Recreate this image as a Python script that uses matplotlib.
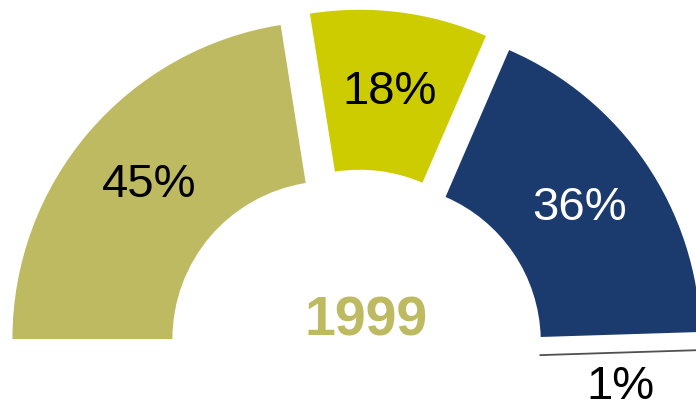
import matplotlib.pyplot as plt
import numpy as np

plt.rcParams['font.family'] = ['Liberation Sans', 'DejaVu Sans']

# data
shares = [45, 18, 36, 1]
colors = ['#BEBA62', '#CCCC00', '#1B3A6E', '#FFFFFF']
text_colors = ['black', 'black', 'white', 'black']
year = '1999'

fig = plt.figure(figsize=(6.96, 4.04), dpi=100)
ax = fig.add_axes([0, 0, 1, 1])

# half doughnut: hidden second half equal to the total
values = shares + [sum(shares)]
wedges, texts, pcts = ax.pie(
    values, colors=colors + ['white'], startangle=180, counterclock=False,
    radius=318, center=(355.5, 43.5), explode=[33, 33, 33, 27, 0],
    wedgeprops=dict(width=160, linewidth=0),
    autopct=lambda p: f'{p * 2:.0f}%', pctdistance=0.748,
    textprops=dict(fontsize=34))

wedges[-1].set_visible(False)
pcts[-1].set_visible(False)
for t, c in zip(pcts, text_colors):
    t.set_color(c)

# 1% slice: only its upper edge shows as a thin line, label below
w = wedges[3]
ang = np.deg2rad(w.theta2)
rr = np.array([w.r - w.width, w.r])
ax.plot(w.center[0] + rr * np.cos(ang), w.center[1] + rr * np.sin(ang),
        color='#505050', lw=1.3)
pcts[3].set_visible(False)
mid = (w.center[0] + (w.r - w.width / 2) * np.cos(ang),
       w.center[1] + (w.r - w.width / 2) * np.sin(ang))
ax.annotate(f'{shares[3]}%', xy=mid, xytext=(0, -25), textcoords='offset points',
            ha='center', va='center', fontsize=34, color='black')

ax.text(366, 82.5, year, ha='center', va='center', fontsize=40,
        fontweight='bold', color='#BEBA62')

ax.set_xlim(0, 696)
ax.set_ylim(0, 404)
ax.set_aspect('equal')
ax.axis('off')

plt.savefig('out.png', dpi=100)
